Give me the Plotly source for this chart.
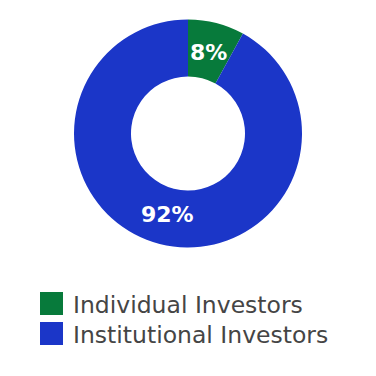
import math
import plotly.graph_objects as go

labels = ["Individual Investors", "Institutional Investors"]
values = [8, 92]
colors = ["#077a3b", "#1b36c8"]

W = H = 376
cx, cy, r = 188, 133.5, 114

fig = go.Figure(go.Pie(
    labels=labels,
    values=values,
    hole=0.5,
    sort=False,
    direction="clockwise",
    rotation=0,
    marker=dict(colors=colors, line=dict(width=0)),
    textinfo="none",
    domain=dict(x=[(cx - r) / W, (cx + r) / W], y=[1 - (cy + r) / H, 1 - (cy - r) / H]),
    showlegend=False,
    hoverinfo="skip",
))

annotations, shapes = [], []

# percentage labels placed at each slice's mid-angle
total = sum(values)
cum = 0
lab_r = 0.73 * r
for v in values:
    mid = (cum + v / 2) / total * 2 * math.pi
    cum += v
    px = cx + lab_r * math.sin(mid)
    py = cy - lab_r * math.cos(mid)
    annotations.append(dict(xref="paper", yref="paper", x=px / W, y=1 - py / H,
                            xanchor="center", yanchor="middle", showarrow=False,
                            text=f"{round(v / total * 100)}%",
                            font=dict(family="DejaVu Sans", size=22, color="white", weight="bold")))

# custom legend (large square swatches)
sq = 23
row_tops = [292, 322]
for lab, col, top in zip(labels, colors, row_tops):
    shapes.append(dict(type="rect", xref="paper", yref="paper",
                       x0=40 / W, x1=(40 + sq) / W,
                       y0=1 - (top + sq) / H, y1=1 - top / H,
                       fillcolor=col, line=dict(width=0)))
    annotations.append(dict(xref="paper", yref="paper", x=71 / W, y=1 - (top + sq / 2 + 1) / H,
                            xanchor="left", yanchor="middle", showarrow=False, text=lab,
                            font=dict(family="DejaVu Sans", size=23.5, color="#454545")))

fig.update_layout(
    width=W, height=H,
    margin=dict(l=0, r=0, t=0, b=0),
    paper_bgcolor="white",
    plot_bgcolor="white",
    shapes=shapes,
    annotations=annotations,
)

fig.write_html("out.html")
